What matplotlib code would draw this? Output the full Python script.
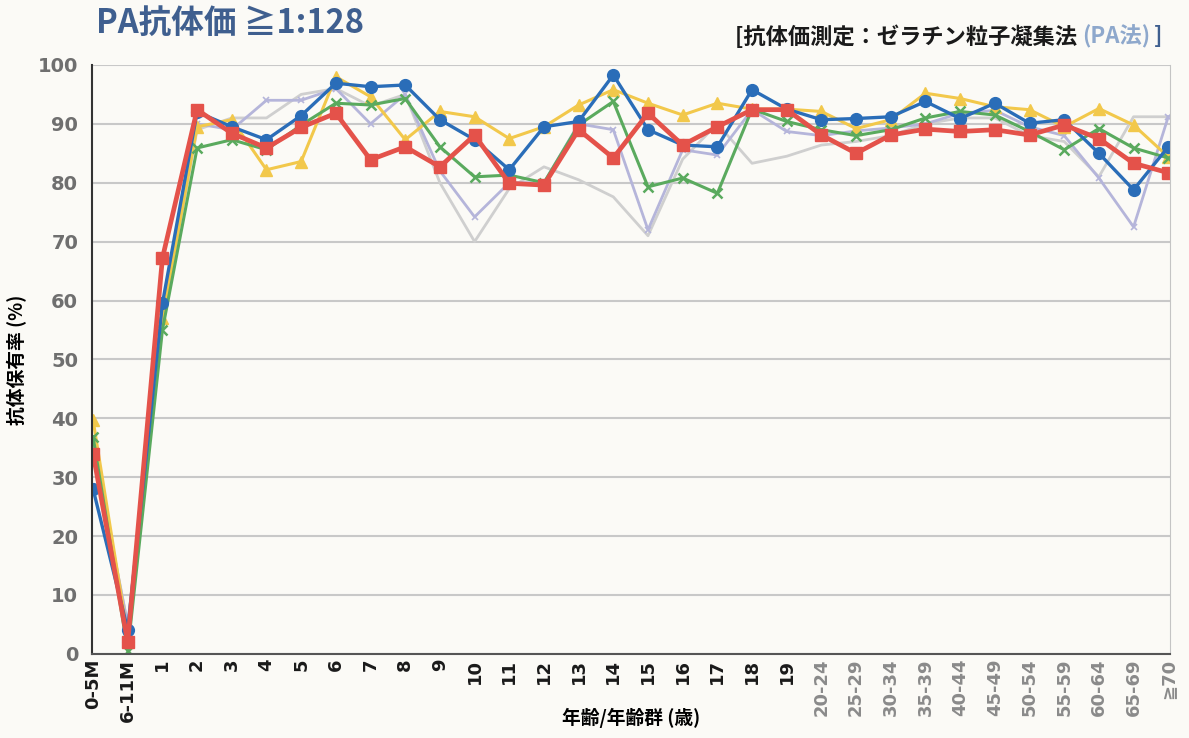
import matplotlib.pyplot as plt

plt.rcParams['font.family'] = ['Noto Sans CJK JP', 'DejaVu Sans']

ages = ["0-5M", "6-11M", "1", "2", "3", "4", "5", "6", "7", "8", "9", "10",
        "11", "12", "13", "14", "15", "16", "17", "18", "19",
        "20-24", "25-29", "30-34", "35-39", "40-44", "45-49", "50-54",
        "55-59", "60-64", "65-69", "≧70"]

gray_vals = [35, 5, 57, 89, 91, 91, 95, 96, 93, 95, 80, 70,
             79, 82.7, 80.5, 77.6, 71, 84, 90, 83.3, 84.5,
             86.4, 87, 88, 90, 91, 91, 88, 87, 81, 91.2, 91.2]
lavender_vals = [35, 5, 58, 90, 89, 94, 94, 96, 90, 95, 82, 74.2,
                 80, 80, 90, 89, 72, 85.6, 84.7, 92.4, 88.7,
                 88, 88.8, 89.3, 90, 91.8, 92.3, 89.5, 88, 80.8, 72.5, 91.2]
yellow_vals = [39.7, 3, 57, 89.5, 90.7, 82.2, 83.6, 98.0, 94.6, 87.3, 92.1, 91.2,
               87.5, 89.5, 93.2, 95.8, 93.5, 91.5, 93.5, 92.5, 92.5,
               92.1, 89.2, 90.7, 95.2, 94.3, 92.9, 92.4, 89.5, 92.6, 89.8, 84.4]
green_vals = [36.9, 0.5, 55, 85.9, 87.3, 85.6, 89.8, 93.5, 93.2, 94.3, 86.1, 81.0,
              81.3, 80, 89.8, 93.8, 79.3, 80.8, 78.2, 92.5, 90.4,
              89, 88, 89, 91.0, 92.1, 91.5, 88.7, 85.6, 89.2, 85.9, 84.2]
blue_vals = [28, 4.1, 59.5, 92, 89.5, 87.3, 91.4, 96.9, 96.3, 96.6, 90.7, 87.3,
             82.2, 89.5, 90.4, 98.3, 89.0, 86.4, 86.1, 95.8, 92.5,
             90.7, 90.9, 91.2, 93.8, 90.9, 93.5, 90.1, 90.7, 85.0, 78.8, 86.1]
red_vals = [34, 2, 67.2, 92.4, 88.4, 85.9, 89.4, 91.8, 83.9, 86.1, 82.7, 88.1,
            79.9, 79.6, 89.0, 84.2, 91.8, 86.4, 89.5, 92.4, 92.4,
            88.1, 85.0, 88.1, 89.1, 88.7, 89.0, 88.1, 89.8, 87.5, 83.3, 81.7]

bg = "#fbfaf6"
num_font = ['DejaVu Sans', 'Noto Sans CJK JP']
x = list(range(len(ages)))

fig = plt.figure(figsize=(11.89, 7.38), dpi=100, facecolor=bg)
ax = fig.add_axes([0.0774, 0.114, 0.9066, 0.798], facecolor=bg)

ax.plot(x, gray_vals, color="#cfcfcf", lw=2.0)
ax.plot(x, lavender_vals, color="#b5b5da", lw=2.0, marker="x", ms=5, mew=1.2)
ax.plot(x, yellow_vals, color="#f2c84b", lw=2.2, marker="^", ms=9)
ax.plot(x, green_vals, color="#5aaa5e", lw=2.2, marker="x", ms=7, mew=1.8)
ax.plot(x, blue_vals, color="#2a6db8", lw=2.4, marker="o", ms=8.5)
ax.plot(x, red_vals, color="#e4524a", lw=3.4, marker="s", ms=9)

ax.set_xlim(-0.03, 31.05)
ax.set_ylim(0, 100)
ax.set_yticks(range(0, 101, 10))
ax.yaxis.grid(True, color="#c8c8c8", lw=1.5)
ax.set_axisbelow(True)
ax.tick_params(length=0)
ax.tick_params(axis="y", pad=10)
for lbl in ax.get_yticklabels():
    lbl.set_color("#6f6f6f")
    lbl.set_fontweight("bold")
    lbl.set_fontsize(14)
    lbl.set_family(num_font)

ax.set_xticks(x)
ax.set_xticklabels(ages, rotation=90, fontsize=13, fontweight="bold")
for i, lbl in enumerate(ax.get_xticklabels()):
    lbl.set_color("#1a1a1a" if i <= 20 else "#8a8a8a")
    lbl.set_family(num_font)

ax.spines["top"].set_visible(False)
ax.spines["left"].set_color("#333333")
ax.spines["left"].set_linewidth(1.5)
ax.spines["bottom"].set_color("#555555")
ax.spines["bottom"].set_linewidth(1.5)
ax.spines["right"].set_color("#c4c4c4")

ax.set_ylabel("抗体保有率 (%)", fontsize=13.5, fontweight="bold", labelpad=8)
fig.text(0.531, 0.027, "年齢/年齢群 (歳)", fontsize=13.5, fontweight="bold",
         ha="center", va="center")

fig.text(0.081, 0.968, "PA抗体価 ≧1:128", fontsize=23.5, fontweight="bold",
         color="#3f5f8f", va="center")

# right-hand note, part of it in a lighter colour
note = fig.text(0.618, 0.95, "[抗体価測定：ゼラチン粒子凝集法 ", fontsize=16,
                fontweight="bold", color="#1a1a1a", va="center")
fig.canvas.draw()
x1 = note.get_window_extent().x1 / fig.bbox.width
pa = fig.text(x1, 0.95, "(PA法)", fontsize=16, fontweight="bold",
              color="#8ea8cc", va="center")
fig.canvas.draw()
x2 = pa.get_window_extent().x1 / fig.bbox.width
fig.text(x2 + 0.003, 0.95, "]", fontsize=16, fontweight="bold",
         color="#3f5f8f", va="center")

fig.savefig("out.png", dpi=100, facecolor=bg)
